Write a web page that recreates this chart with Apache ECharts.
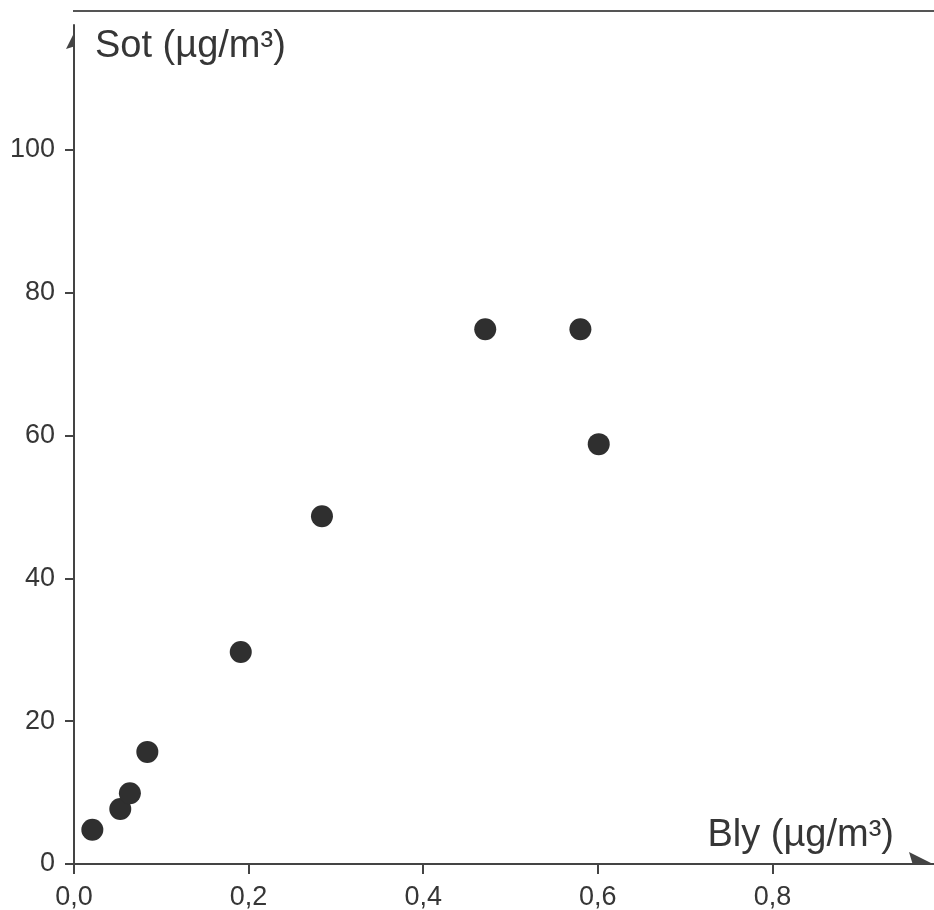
<!DOCTYPE html>
<html>
<head>
<meta charset="utf-8">
<script src="https://cdn.jsdelivr.net/npm/echarts@6/dist/echarts.min.js"></script>
<style>
html,body{margin:0;padding:0;background:#fff;}
#c{width:934px;height:910px;}
</style>
</head>
<body>
<div id="c"></div>
<script>
// Data
const blyValues = [0.021, 0.053, 0.064, 0.084, 0.191, 0.284, 0.471, 0.580, 0.601];
const sotValues = [4.8, 7.7, 9.9, 15.7, 29.7, 48.7, 74.9, 74.9, 58.8];
const xTicks = [0, 0.2, 0.4, 0.6, 0.8];
const yTicks = [0, 20, 40, 60, 80, 100];
const xName = 'Bly (µg/m³)';
const yName = 'Sot (µg/m³)';

const points = blyValues.map((v, i) => [v, sotValues[i]]);
const ink = '#363636';
const font = '"Liberation Sans", Arial, Helvetica, sans-serif';
const halfArrow = 'path://M10,0L0,20L10,17ZM20,20L20,20Z';

const chart = echarts.init(document.getElementById('c'), null, {renderer: 'canvas'});
chart.setOption({
  backgroundColor: '#ffffff',
  animation: false,
  grid: {left: 74, right: 0, top: 25, bottom: 46, containLabel: false, outerBoundsMode: 'none'},
  xAxis: {
    type: 'value', min: 0, max: 0.985,
    name: xName, nameLocation: 'end', nameGap: -40,
    nameTextStyle: {fontFamily: font, fontSize: 38, color: ink, align: 'right', verticalAlign: 'bottom', padding: [0, 0, 9, 0]},
    axisLine: {show: true, lineStyle: {color: '#444', width: 2}, symbol: ['none', halfArrow], symbolSize: [24, 26], symbolOffset: [0, -13]},
    axisTick: {show: true, inside: false, length: 10, lineStyle: {color: '#444', width: 2}, customValues: xTicks},
    axisLabel: {show: true, margin: 20, fontFamily: font, fontSize: 27, color: ink, customValues: xTicks,
      formatter: v => v.toFixed(1).replace('.', ',')},
    splitLine: {show: false}
  },
  yAxis: {
    type: 'value', min: 0, max: 117.5,
    name: yName, nameLocation: 'end', nameGap: -22,
    nameTextStyle: {fontFamily: font, fontSize: 38, color: ink, align: 'left', verticalAlign: 'middle', padding: [0, 0, 0, 21]},
    axisLine: {show: true, lineStyle: {color: '#444', width: 2}, symbol: ['none', halfArrow], symbolSize: [16, 32], symbolOffset: [0, -16]},
    axisTick: {show: true, inside: false, length: 9, lineStyle: {color: '#444', width: 2}, customValues: yTicks},
    axisLabel: {show: true, margin: 19, fontFamily: font, fontSize: 27, color: ink, customValues: yTicks},
    splitLine: {show: false}
  },
  graphic: [{
    type: 'line', shape: {x1: 73, y1: 11, x2: 934, y2: 11},
    style: {stroke: '#555', lineWidth: 2}, silent: true
  }],
  series: [{
    type: 'scatter',
    data: points,
    symbol: 'circle',
    symbolSize: 22,
    itemStyle: {color: '#2f2f2f', opacity: 1},
    emphasis: {disabled: true}
  }]
});
</script>
</body>
</html>
